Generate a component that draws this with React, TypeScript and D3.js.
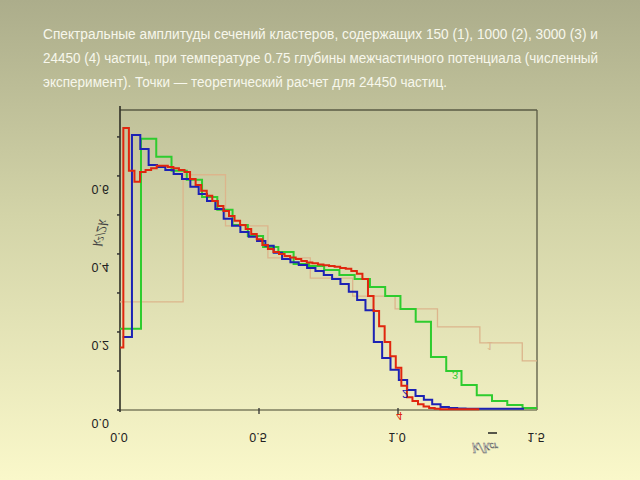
import React from "react";
import * as d3 from "d3";

const titleLines = [
  "Спектральные амплитуды сечений кластеров, содержащих 150 (1), 1000 (2), 3000 (3) и",
  "24450 (4) частиц, при температуре 0.75 глубины межчастичного потенциала (численный",
  "эксперимент). Точки — теоретический расчет для 24450 частиц.",
];

const xTicks = [0, 0.5, 1.0, 1.5];
const yTicks = [0, 0.2, 0.4, 0.6];
const yMinorTicks = [0.1, 0.3, 0.5, 0.7];

// curve labelled 1 (tan)
const s1Start = 0.227;
const s1Width = 0.1525;
const s1LowFrom = 0.0;
const s1Low = 0.277;
const s1Values = [0.603, 0.472, 0.39, 0.338, 0.292, 0.259, 0.213, 0.172, 0.126];

// curve labelled 3 (green)
const s2Start = 0.0755;
const s2Width = 0.0549;
const s2LowFrom = 0.0;
const s2Low = 0.208;
const s2Values = [
  0.695, 0.649, 0.613, 0.59, 0.546, 0.513, 0.474, 0.446, 0.418, 0.405, 0.374, 0.369,
  0.359, 0.346, 0.336, 0.315, 0.292, 0.259, 0.226, 0.136, 0.1, 0.064, 0.038, 0.023,
  0.013, 0.005,
];

// curve labelled 2 (blue)
const s3Start = 0.043;
const s3Width = 0.03;
const s3LowFrom = 0.01;
const s3Low = 0.187;
const s3Values = [
  0.705, 0.669, 0.628, 0.623, 0.615, 0.605, 0.592, 0.572, 0.554, 0.536, 0.515, 0.49,
  0.472, 0.456, 0.444, 0.433, 0.421, 0.403, 0.387, 0.379, 0.372, 0.364, 0.356, 0.346,
  0.336, 0.323, 0.303, 0.282, 0.256, 0.174, 0.133, 0.103, 0.077, 0.051, 0.036, 0.026,
  0.015, 0.008, 0.005, 0.004, 0.003, 0.003, 0.003, 0.003, 0.003, 0.003, 0.003,
];

// curve labelled 4 (red)
const s4Start = 0.012;
const s4Width = 0.02;
const s4LowFrom = 0.0;
const s4Low = 0.16;
const s4Values = [
  0.723, 0.613, 0.585, 0.61, 0.615, 0.62, 0.626, 0.626, 0.623, 0.62, 0.615, 0.61,
  0.592, 0.577, 0.562, 0.549, 0.536, 0.523, 0.51, 0.497, 0.485, 0.474, 0.464, 0.451,
  0.438, 0.423, 0.413, 0.405, 0.4, 0.395, 0.391, 0.387, 0.382, 0.378, 0.376, 0.373,
  0.371, 0.369, 0.367, 0.364, 0.362, 0.356, 0.349, 0.336, 0.292, 0.254, 0.215, 0.174,
  0.138, 0.108, 0.062, 0.033, 0.023, 0.015, 0.009, 0.005, 0.003, 0.002, 0.002, 0.002,
  0.002, 0.002, 0.002, 0.002,
];

const seriesLabels = ["1", "3", "2", "4"];

const W = 640;
const H = 480;
const xMax = 1.5;

const x = d3.scaleLinear().domain([0, 1.5]).range([120, 537]);
const y = d3.scaleLinear().domain([0, 0.769]).range([410, 110]);

function stepPoints(lowFrom: number, low: number, start: number, width: number, values: number[]) {
  const pts: [number, number][] = [[lowFrom, low]];
  values.forEach((v, i) => {
    pts.push([start + i * width, v]);
  });
  const end = Math.min(start + values.length * width, xMax);
  pts.push([end, values[values.length - 1]]);
  return pts.map(([a, b]) => [Math.min(a, xMax), b] as [number, number]);
}

const line = d3
  .line<[number, number]>()
  .x((d) => x(d[0]))
  .y((d) => y(d[1]))
  .curve(d3.curveStepAfter);

const series = [
  { pts: stepPoints(s1LowFrom, s1Low, s1Start, s1Width, s1Values), color: "#dcb58c", w: 1.3, lx: 1.33, ly: 0.175 },
  { pts: stepPoints(s2LowFrom, s2Low, s2Start, s2Width, s2Values), color: "#2ecc2e", w: 2, lx: 1.205, ly: 0.1 },
  { pts: stepPoints(s3LowFrom, s3Low, s3Start, s3Width, s3Values), color: "#1c22b4", w: 2, lx: 1.025, ly: 0.05 },
  { pts: stepPoints(s4LowFrom, s4Low, s4Start, s4Width, s4Values), color: "#e0260e", w: 2, lx: 1.005, ly: -0.005 },
];

export default function App() {
  const flip = (tx: number, ty: number) => `translate(${tx},${ty}) scale(1,-1)`;
  return (
    <svg width={W} height={H} style={{ display: "block", position: "absolute", left: 0, top: 0 }}>
      <defs>
        <linearGradient id="bg" x1="0" y1="0" x2="0" y2="1">
          <stop offset="0" stopColor="#acad8b" />
          <stop offset="0.45" stopColor="#d3d4a8" />
          <stop offset="1" stopColor="#faf8ca" />
        </linearGradient>
      </defs>
      <rect x={0} y={0} width={W} height={H} fill="url(#bg)" />

      {titleLines.map((t, i) => (
        <text
          key={i}
          x={43}
          y={39 + i * 24}
          fontFamily="Liberation Sans, Arial, sans-serif"
          fontSize={14}
          fill="#f7f7ec"
          textLength={i < 2 ? 555 : 404}
          lengthAdjust="spacingAndGlyphs"
        >
          {t}
        </text>
      ))}

      {/* frame */}
      <line x1={x(0)} x2={x(1.5)} y1={110} y2={110} stroke="#5a5a44" strokeWidth={1.3} />
      <line x1={x(1.5)} x2={x(1.5)} y1={110} y2={y(0)} stroke="#5a5a44" strokeWidth={1.3} />
      <line x1={x(0)} x2={x(1.5)} y1={y(0)} y2={y(0)} stroke="#7c7c5e" strokeWidth={1.5} />
      <line x1={x(0)} x2={x(0)} y1={106} y2={y(0) + 2} stroke="#2f2f26" strokeWidth={1.6} />

      {/* y ticks */}
      {[...yTicks, ...yMinorTicks].map((t) => (
        <line key={"yt" + t} x1={x(0) - 3} x2={x(0)} y1={y(t)} y2={y(t)} stroke="#333" strokeWidth={1.5} />
      ))}
      {xTicks.slice(1, 3).map((t) => (
        <line key={"xt" + t} x1={x(t)} x2={x(t)} y1={y(0) - 2} y2={y(0) + 4} stroke="#333" strokeWidth={1.3} />
      ))}

      {/* tick labels, vertically flipped as in the source */}
      {yTicks.map((t) => (
        <text
          key={"yl" + t}
          transform={flip(109, y(t) + 9)}
          textAnchor="end"
          fontFamily="Liberation Sans, Arial, sans-serif"
          fontSize={12.5}
          fill="#222"
        >
          {t.toFixed(1)}
        </text>
      ))}
      {xTicks.map((t) => (
        <text
          key={"xl" + t}
          transform={flip(x(t) - 1, y(0) + 23)}
          textAnchor="middle"
          fontFamily="Liberation Sans, Arial, sans-serif"
          fontSize={12.5}
          fill="#222"
        >
          {t.toFixed(1)}
        </text>
      ))}

      {/* axis titles */}
      <text
        transform="translate(96,232) rotate(-75) scale(1,-1)"
        textAnchor="middle"
        fontFamily="Liberation Serif, serif"
        fontStyle="italic"
        fontSize={14}
        fill="#444"
      >
        k²/2k
      </text>
      <line x1={488} x2={497} y1={433} y2={433} stroke="#222" strokeWidth={1.5} />
      <text
        transform="translate(485,443) scale(1,-1)"
        textAnchor="middle"
        fontFamily="Liberation Serif, serif"
        fontStyle="italic"
        fontSize={15}
        fill="#f4f4ee"
        stroke="#666"
        strokeWidth={0.5}
      >
        k/k<tspan fontSize={10}>cr</tspan>
      </text>

      {/* series */}
      {series.map((s, i) => (
        <path key={"s" + i} d={line(s.pts) || ""} fill="none" stroke={s.color} strokeWidth={s.w} strokeLinejoin="miter" />
      ))}
      {series.map((s, i) => (
        <text
          key={"sl" + i}
          transform={flip(x(s.lx), y(s.ly))}
          textAnchor="middle"
          fontFamily="Liberation Sans, Arial, sans-serif"
          fontSize={11}
          fill={s.color}
        >
          {seriesLabels[i]}
        </text>
      ))}
    </svg>
  );
}
